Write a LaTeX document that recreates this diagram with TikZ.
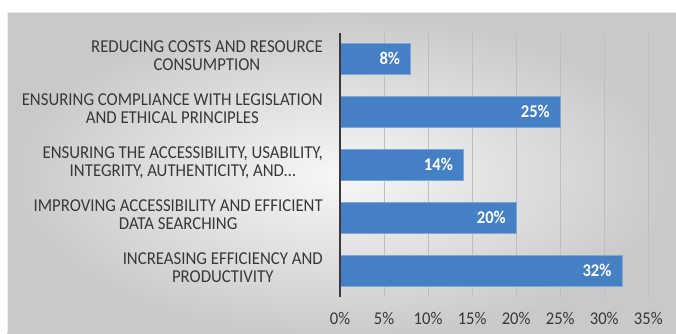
\documentclass[tikz,border=0pt]{standalone}
\usepackage{fontspec}
\setmainfont{Carlito}
\definecolor{barblue}{HTML}{4680C4}
\definecolor{baredge}{HTML}{7EA6D8}
\definecolor{txt}{HTML}{383838}
\definecolor{gridc}{HTML}{BEBEBE}
\definecolor{axisc}{HTML}{3A3A3A}
\definecolor{bgout}{HTML}{C9C9C9}
\definecolor{bgin}{HTML}{F7F7F7}
\newcommand{\vstretch}[1]{\scalebox{1}[1.08]{#1}}
\newcommand{\twoline}[2]{\vstretch{\begin{tabular}{@{}c@{}}#1\\[-0.8pt]#2\end{tabular}}}
\begin{document}
\begin{tikzpicture}[x=1pt,y=-1pt,
  catlabel/.style={anchor=east,text=txt,font=\fontsize{16.8}{17.6}\selectfont,inner sep=0pt},
  barbox/.style={anchor=west,fill=barblue,draw=baredge,line width=0.8pt,minimum height=31pt,inner sep=0pt},
  vallabel/.style={anchor=east,text=white,font=\fontsize{16.6}{19}\selectfont\bfseries,inner sep=0pt},
  ticklabel/.style={anchor=center,text=txt,font=\fontsize{16.6}{19}\selectfont,inner sep=0pt},
  gridline/.style={draw=gridc,line width=1pt},
  axisline/.style={draw=axisc,line width=2.2pt}]
\useasboundingbox (0,0) rectangle (676,333);
% background
\shade[inner color=bgin,outer color=bgout] (7,12) rectangle (676,340);
\draw[white!85!gray,line width=0.8pt] (7.4,12) -- (7.4,333);
\draw[white!80!gray,line width=0.6pt] (7,12.3) -- (676,12.3);
% grid
\foreach \k in {1,...,7}{
  \coordinate (gt\k) at (340+\k*44.04,33);
  \coordinate (gb\k) at (340+\k*44.04,297);
  \draw[gridline] (gt\k) -- (gb\k);
}
% bars
\foreach \i/\v in {1/8,2/25,3/14,4/20,5/32}{
  \node[barbox,minimum width=\v*8.808pt] (bar\i) at (340,5.5+53*\i) {};
  \node[vallabel] (val\i) at ([xshift=-11pt]bar\i.east) {\vstretch{\v\%}};
}
% category labels
\node[catlabel] (c1) at (323,58) {\twoline{REDUCING COSTS AND RESOURCE}{CONSUMPTION}};
\node[catlabel] (c2) at (323,111) {\twoline{ENSURING COMPLIANCE WITH LEGISLATION}{AND ETHICAL PRINCIPLES}};
\node[catlabel] (c3) at (323,164) {\twoline{ENSURING THE ACCESSIBILITY, USABILITY,}{INTEGRITY, AUTHENTICITY, AND\ldots}};
\node[catlabel] (c4) at (323,217) {\twoline{IMPROVING ACCESSIBILITY AND EFFICIENT}{DATA SEARCHING}};
\node[catlabel] (c5) at (323,270) {\twoline{INCREASING EFFICIENCY AND}{PRODUCTIVITY}};
% axis
\coordinate (at) at (340,33);
\coordinate (ab) at (340,297);
\draw[axisline] (at) -- (ab);
% tick labels
\foreach \k in {0,...,7}{
  \pgfmathtruncatemacro{\p}{5*\k}
  \node[ticklabel] (t\k) at (340+\k*44.04,318) {\vstretch{\p\%}};
}
\end{tikzpicture}
\end{document}
